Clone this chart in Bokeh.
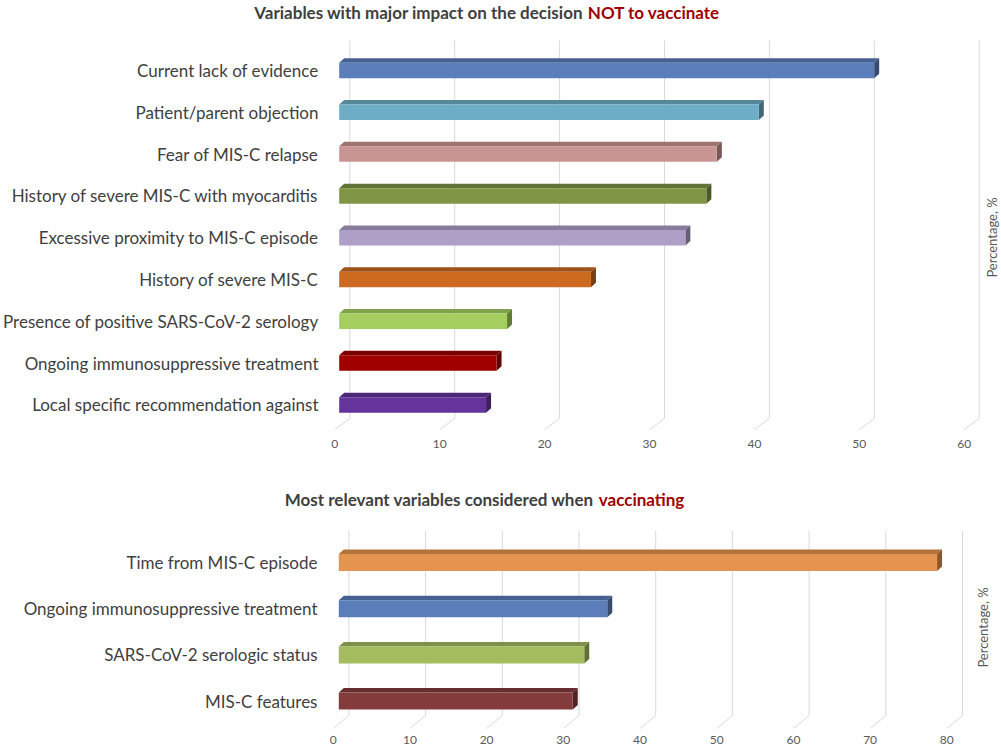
import math
from bokeh.plotting import figure
from bokeh.models import Range1d, FixedTicker
from bokeh.layouts import column, row
from bokeh.core.properties import value
from bokeh.embed import file_html
from bokeh.resources import INLINE

# ---------------- data ----------------
top_labels = [
    "Current lack of evidence",
    "Patient/parent objection",
    "Fear of MIS-C relapse",
    "History of severe MIS-C with myocarditis",
    "Excessive proximity to MIS-C episode",
    "History of severe MIS-C",
    "Presence of positive SARS-CoV-2 serology",
    "Ongoing immunosuppressive treatment",
    "Local specific recommendation against",
]
top_values = [51, 40, 36, 35, 33, 24, 16, 15, 14]
top_colors = ["#5B7DBA", "#6EADC6", "#C99593", "#7F9445", "#AE9FC7",
              "#CC6A1F", "#A4CF5E", "#A00000", "#65349A"]
top_ticks = [0, 10, 20, 30, 40, 50, 60]

bottom_labels = [
    "Time from MIS-C episode",
    "Ongoing immunosuppressive treatment",
    "SARS-CoV-2 serologic status",
    "MIS-C features",
]
bottom_values = [78, 35, 32, 30.5]
bottom_colors = ["#E5944F", "#5B7DBA", "#A4BB5E", "#843B3B"]
bottom_ticks = [0, 10, 20, 30, 40, 50, 60, 70, 80]

FONT = "Lato"
GRAY = "#404040"
RED = "#A00000"
TICK_GRAY = "#595959"
GRID = "#D9D9D9"
PAGE_W = 1000


def shade(hex_color, f):
    h = hex_color.lstrip("#")
    r, g, b = (int(h[i:i + 2], 16) for i in (0, 2, 4))
    return "#%02x%02x%02x" % (int(r * f), int(g * f), int(b * f))


def make_title(top, bottom, title_y, split_l, split_r, gray, red):
    """A strip figure (pixel coordinates) holding a two-coloured title."""
    hgt = bottom - top
    t = figure(frame_width=PAGE_W, frame_height=hgt, x_range=Range1d(0, PAGE_W),
               y_range=Range1d(hgt, 0), output_backend="svg",
               toolbar_location=None, min_border=0)
    t.axis.visible = False
    t.grid.visible = False
    t.outline_line_color = None
    y = title_y - top
    t.text(x=[split_l], y=[y], text=[gray], text_align="right",
           text_baseline="middle", text_font=value(FONT), text_font_style="bold",
           text_font_size="17px", text_color=GRAY)
    t.text(x=[split_r], y=[y], text=[red], text_align="left",
           text_baseline="middle", text_font=value(FONT), text_font_style="bold",
           text_font_size="17px", text_color=RED)
    return t


def make_chart(labels, values, colors, ticks, g):
    sx, x0, sy, y0 = g["sx"], g["x0"], g["sy"], g["y0"]

    def px(R):
        return (R - x0) / sx

    def py(R):
        return (R - y0) / sy

    fl, fr, ft, fb = g["frame"]
    p = figure(frame_width=int(fr - fl), frame_height=int(fb - ft),
               x_range=Range1d(px(fl), px(fr)),
               y_range=Range1d(py(fb), py(ft)),
               output_backend="svg", toolbar_location=None,
               min_border_left=int(fl), min_border_right=0,
               min_border_top=0, min_border_bottom=g["border_bottom"])
    p.outline_line_color = None
    p.xgrid.visible = False
    p.ygrid.visible = False

    # back-wall gridlines and floor diagonals
    gdx = g["grid_dx"] / sx
    gt, gb, gf = py(g["grid_top"]), py(g["floor_back"]), py(g["floor_front"])
    p.segment(x0=[t + gdx for t in ticks], y0=[gt] * len(ticks),
              x1=[t + gdx for t in ticks], y1=[gb] * len(ticks),
              line_color=GRID, line_width=1)
    p.segment(x0=[t + gdx for t in ticks], y0=[gb] * len(ticks),
              x1=ticks, y1=[gf] * len(ticks),
              line_color=GRID, line_width=1)

    # 3D bars
    n = len(values)
    ys = list(range(n))
    bx0 = px(g["bar_left"])
    h = g["bar_h"] / sy
    dx = g["depth_dx"] / sx
    dy = g["depth_dy"] / sy
    rights = [bx0 + v for v in values]
    tops = [i - h / 2 for i in ys]
    bots = [i + h / 2 for i in ys]
    p.patches(xs=[[bx0, r, r + dx, bx0 + dx] for r in rights],
              ys=[[t, t, t - dy, t - dy] for t in tops],
              fill_color=[shade(c, 0.78) for c in colors], line_color=None)
    p.patches(xs=[[r, r + dx, r + dx, r] for r in rights],
              ys=[[t, t - dy, b - dy, b] for t, b in zip(tops, bots)],
              fill_color=[shade(c, 0.6) for c in colors], line_color=None)
    p.quad(left=[bx0] * n, right=rights, top=tops, bottom=bots,
           fill_color=colors, line_color=None)

    # value-axis title at the right
    p.text(x=[px(g["pct"][0])], y=[py(g["pct"][1])], text=["Percentage, %"],
           angle=math.pi / 2, text_align="center", text_baseline="middle",
           text_font=value(FONT), text_font_size="13px", text_color=TICK_GRAY)

    # axes
    p.xaxis.ticker = FixedTicker(ticks=ticks)
    p.xaxis.axis_line_color = None
    p.xaxis.major_tick_line_color = None
    p.xaxis.minor_tick_line_color = None
    p.xaxis.major_tick_out = 0
    p.xaxis.major_label_standoff = g["x_standoff"]
    p.xaxis.major_label_text_font = FONT
    p.xaxis.major_label_text_font_size = "12px"
    p.xaxis.major_label_text_color = TICK_GRAY

    p.yaxis.ticker = FixedTicker(ticks=ys)
    p.yaxis.major_label_overrides = {i: lab for i, lab in enumerate(labels)}
    p.yaxis.axis_line_color = None
    p.yaxis.major_tick_line_color = None
    p.yaxis.minor_tick_line_color = None
    p.yaxis.major_tick_out = 0
    p.yaxis.major_label_standoff = 5
    p.yaxis.major_label_text_font = FONT
    p.yaxis.major_label_text_font_size = "17px"
    p.yaxis.major_label_text_color = GRAY
    return p


top_geom = dict(sx=10.49, x0=333.3, sy=41.8, y0=70, frame=(322, PAGE_W, 25, 432),
                border_bottom=51, bar_left=337.7, bar_h=15.5, depth_dx=5,
                depth_dy=4.5, grid_dx=15, grid_top=40, floor_back=418,
                floor_front=429, pct=(990, 237), x_standoff=7)
bottom_geom = dict(sx=7.67, x0=332.7, sy=46.2, y0=562, frame=(322, PAGE_W, 515, 731),
                   border_bottom=18, bar_left=338.3, bar_h=17, depth_dx=5,
                   depth_dy=4.5, grid_dx=15.7, grid_top=530, floor_back=715,
                   floor_front=728, pct=(982, 627), x_standoff=4)

t1 = make_title(0, 25, 12, 582.7, 587.3,
                "Variables with major impact on the decision", "NOT to vaccinate")
p1 = make_chart(top_labels, top_values, top_colors, top_ticks, top_geom)
t2 = make_title(483, 515, 499, 593.3, 598.3,
                "Most relevant variables considered when", "vaccinating")
p2 = make_chart(bottom_labels, bottom_values, bottom_colors, bottom_ticks, bottom_geom)

layout = column(row(t1, spacing=0), row(p1, spacing=0),
                row(t2, spacing=0), row(p2, spacing=0), spacing=0)
open("out.html", "w").write(file_html(layout, INLINE))
